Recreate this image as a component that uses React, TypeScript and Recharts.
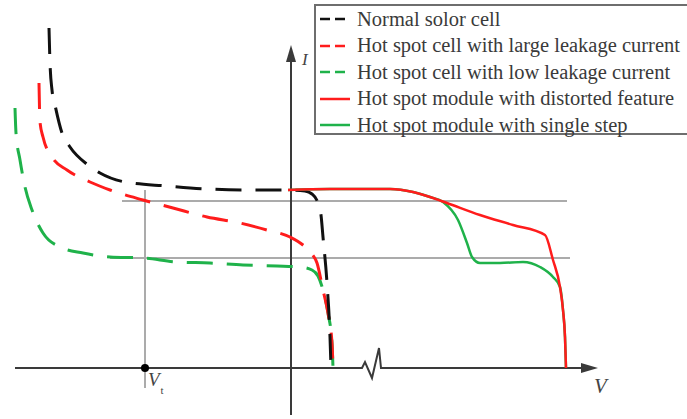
import { LineChart, Line, XAxis, YAxis, ReferenceLine, ReferenceDot, Legend } from "recharts";

type Pt = [number, number];

// I–V traces (V, I in arbitrary units, origin at the axes cross)
const normalCell: Pt[] = [
  [-24.2, 34.0], [-24.1, 30.5], [-23.9, 27.8], [-23.6, 26.3], [-22.9, 23.5],
  [-22.1, 22.1], [-20.3, 20.3], [-19.1, 19.5], [-16.6, 18.6], [-12.4, 18.2],
  [-8.4, 17.9], [-4.3, 17.8], [-0.1, 17.8], [1.4, 17.7], [2.1, 17.4],
  [2.7, 16.5], [3.0, 15.3], [3.2, 13.1], [3.6, 8.5], [3.9, 3.1], [4.0, 0],
];

const largeLeakage: Pt[] = [
  [-25.2, 28.5], [-25.1, 24.6], [-24.8, 23.1], [-23.9, 21.1], [-22.4, 19.8],
  [-20.1, 18.6], [-18.1, 17.8], [-14.8, 16.8], [-11.8, 16.0], [-8.4, 15.1],
  [-5.1, 14.5], [-2.4, 13.8], [-0.1, 13.1], [1.2, 12.3], [2.1, 11.4],
  [2.6, 10.5], [3.2, 7.8], [3.7, 5.5], [4.1, 2.5], [4.2, 0],
];

const lowLeakage: Pt[] = [
  [-27.6, 26.0], [-27.5, 23.5], [-27.1, 20.8], [-26.6, 18.1], [-25.9, 15.8],
  [-24.8, 13.5], [-23.1, 12.1], [-20.8, 11.5], [-18.1, 11.1], [-14.8, 11.0],
  [-11.4, 10.6], [-8.1, 10.5], [-4.8, 10.3], [-1.4, 10.2], [0.9, 10.1],
  [2.1, 9.8], [2.7, 9.2], [3.2, 7.8], [3.7, 5.5], [4.1, 2.5], [4.2, 0],
];

const distortedModule: Pt[] = [
  [-0.3, 17.8], [3.9, 17.9], [9.9, 17.9], [12.2, 17.6], [13.9, 17.1],
  [15.6, 16.5], [18.9, 15.3], [22.2, 14.3], [25.4, 13.3], [26.2, 10.8],
  [26.9, 8.1], [27.2, 5.8], [27.4, 3.1], [27.5, 0],
];

const singleStepModule: Pt[] = [
  [-0.3, 17.8], [3.9, 17.9], [9.9, 17.9], [12.2, 17.6], [13.9, 17.1],
  [15.2, 16.6], [16.7, 14.8], [17.6, 12.5], [18.1, 11.1], [18.9, 10.5],
  [20.9, 10.5], [23.2, 10.6], [24.9, 10.1], [26.2, 9.1], [26.9, 8.1],
  [27.2, 5.8], [27.4, 3.1], [27.5, 0],
];

// V axis with the break mark
const vAxisTrace: Pt[] = [
  [-27.6, 0], [7.1, 0], [7.4, 0.6], [8.1, -1.0], [8.8, 2.0], [9.0, 0], [29.3, 0],
];

const NAMES = {
  normal: "Normal solor cell",
  large: "Hot spot cell with large leakage current",
  low: "Hot spot cell with low leakage current",
  distorted: "Hot spot module with distorted feature",
  single: "Hot spot module with single step",
};

const RED = "#ff1c1c";
const GREEN = "#1fb24a";
const BLACK = "#111111";
const AXIS = "#3a3a3a";
const GUIDE = "#ababab";
const SERIF = '"Liberation Serif", "DejaVu Serif", serif';

const LEGEND_ITEMS = [
  { name: NAMES.normal, color: BLACK, dashed: true },
  { name: NAMES.large, color: RED, dashed: true },
  { name: NAMES.low, color: GREEN, dashed: true },
  { name: NAMES.distorted, color: RED, dashed: false },
  { name: NAMES.single, color: GREEN, dashed: false },
];

const toRows = (pts: Pt[]) => pts.map(([v, i]) => ({ v, i }));

function LegendBox() {
  return (
    <div
      style={{
        border: "2px solid #6e6e6e",
        background: "#fff",
        width: 380,
        height: 127,
        boxSizing: "content-box",
        fontFamily: SERIF,
        fontSize: 20.5,
        color: "#3a3a3a",
      }}
    >
      {LEGEND_ITEMS.map((it) => (
        <div key={it.name} style={{ display: "flex", alignItems: "center", height: 26.5 }}>
          <svg width={41} height={10} style={{ flex: "none" }}>
            <line
              x1={4}
              x2={34}
              y1={5}
              y2={5}
              stroke={it.color}
              strokeWidth={2.5}
              strokeDasharray={it.dashed ? "10 5" : undefined}
            />
          </svg>
          <span style={{ whiteSpace: "nowrap" }}>{it.name}</span>
        </div>
      ))}
    </div>
  );
}

const arrowUp = (p: any) => (
  <polygon points={`${p.cx},${p.cy} ${p.cx - 5},${p.cy + 17} ${p.cx + 5},${p.cy + 17}`} fill={AXIS} />
);
const arrowRight = (p: any) => (
  <polygon points={`${p.cx},${p.cy} ${p.cx - 17},${p.cy - 5} ${p.cx - 17},${p.cy + 5}`} fill={AXIS} />
);

const labelStyle = {
  fontFamily: SERIF,
  fontStyle: "italic" as const,
  fill: "#444",
};

export default function App() {
  return (
    <div style={{ position: "absolute", left: 0, top: 0, width: 687, height: 419, overflow: "hidden", background: "#fff" }}>
      <LineChart width={687} height={419} margin={{ top: 0, right: 0, bottom: 0, left: 0 }}>
        <XAxis type="number" dataKey="v" domain={[-29.1, 39.6]} allowDataOverflow hide />
        <YAxis type="number" dataKey="i" domain={[-5.1, 36.8]} allowDataOverflow hide />

        {/* guide lines */}
        <ReferenceLine segment={[{ x: -16.9, y: 16.7 }, { x: 27.6, y: 16.7 }]} stroke={GUIDE} strokeWidth={2} />
        <ReferenceLine segment={[{ x: -18.1, y: 11.0 }, { x: 27.9, y: 11.0 }]} stroke={GUIDE} strokeWidth={2} />
        <ReferenceLine segment={[{ x: -14.6, y: 17.8 }, { x: -14.6, y: -2.0 }]} stroke={GUIDE} strokeWidth={2} />

        {/* axes */}
        <ReferenceLine segment={[{ x: 0, y: -4.7 }, { x: 0, y: 30.6 }]} stroke={AXIS} strokeWidth={2} />
        <Line data={toRows(vAxisTrace)} dataKey="i" type="linear" stroke={AXIS} strokeWidth={2} dot={false} activeDot={false} legendType="none" isAnimationActive={false} />
        <ReferenceDot x={0} y={32.3} shape={arrowUp} />
        <ReferenceDot x={30.7} y={0} shape={arrowRight} />
        <ReferenceDot x={-14.6} y={0} r={4} fill="#000" stroke="none" />
        <ReferenceDot x={1.1} y={30.3} shape={(p: any) => <text x={p.cx} y={p.cy} fontSize={17} {...labelStyle}>I</text>} />
        <ReferenceDot x={30.3} y={-2.5} shape={(p: any) => <text x={p.cx} y={p.cy} fontSize={21} {...labelStyle}>V</text>} />
        <ReferenceDot
          x={-14.3}
          y={-1.8}
          shape={(p: any) => (
            <text x={p.cx} y={p.cy} fontSize={19} {...labelStyle}>
              V
              <tspan dx={1} dy={8} fontSize={11} fontStyle="normal">t</tspan>
            </text>
          )}
        />

        {/* cell curves */}
        <Line name={NAMES.low} data={toRows(lowLeakage)} dataKey="i" type="monotone" stroke={GREEN} strokeWidth={3} strokeDasharray="26 14" dot={false} activeDot={false} isAnimationActive={false} />
        <Line name={NAMES.large} data={toRows(largeLeakage)} dataKey="i" type="monotone" stroke={RED} strokeWidth={3} strokeDasharray="26 14" dot={false} activeDot={false} isAnimationActive={false} />
        <Line name={NAMES.normal} data={toRows(normalCell)} dataKey="i" type="monotone" stroke={BLACK} strokeWidth={3} strokeDasharray="26 14" dot={false} activeDot={false} isAnimationActive={false} />

        {/* module curves */}
        <Line name={NAMES.single} data={toRows(singleStepModule)} dataKey="i" type="monotone" stroke={GREEN} strokeWidth={2.5} dot={false} activeDot={false} isAnimationActive={false} />
        <Line name={NAMES.distorted} data={toRows(distortedModule)} dataKey="i" type="monotone" stroke={RED} strokeWidth={2.5} dot={false} activeDot={false} isAnimationActive={false} />

        <Legend
          layout="horizontal"
          align="center"
          verticalAlign="middle"
          content={() => <LegendBox />}
          wrapperStyle={{ position: "absolute", left: 314, top: 4, width: "auto" }}
        />
      </LineChart>
    </div>
  );
}
